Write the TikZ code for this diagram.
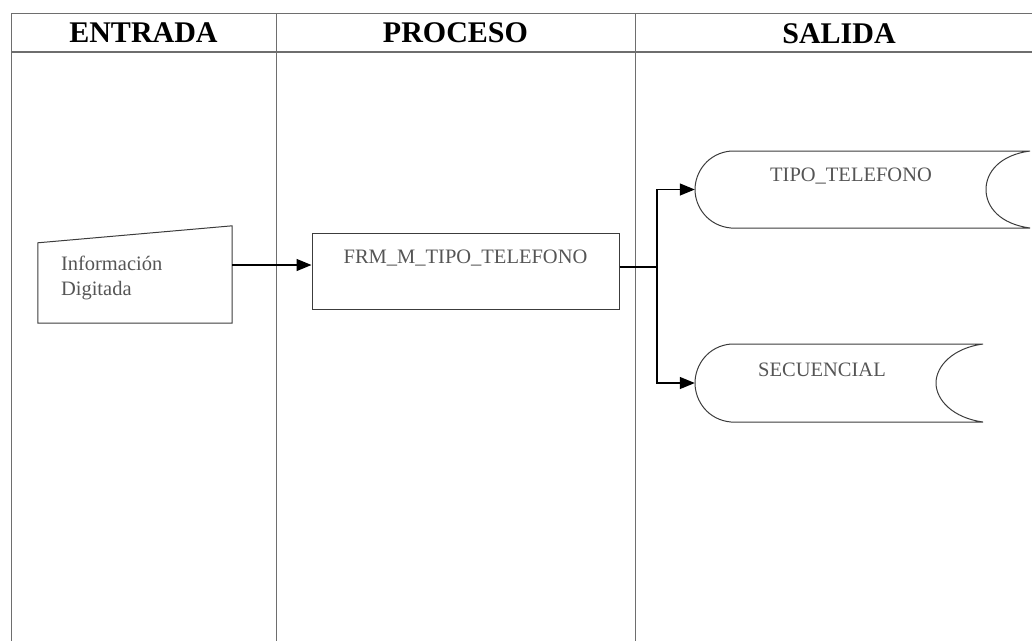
\documentclass[tikz,border=0pt]{standalone}
\usepackage{fontspec}
\setmainfont{Liberation Serif}
\usepackage{tikz}
\usetikzlibrary{arrows.meta, positioning, calc}
\definecolor{gridgray}{RGB}{110,110,110}
\definecolor{shapegray}{RGB}{60,60,60}
\definecolor{txtgray}{RGB}{85,85,85}
\tikzset{
  hdr/.style={font=\fontsize{30}{34}\selectfont\bfseries, text=black, inner sep=0pt},
  lbl/.style={font=\fontsize{20.5}{25}\selectfont, text=txtgray, inner sep=0pt},
  grid/.style={draw=gridgray, line width=0.9pt},
  outline/.style={draw=shapegray, line width=1pt},
  arr/.style={-{Triangle[length=15pt,width=12pt]}, line width=1.3pt, color=black},
  line/.style={line width=1.3pt, color=black}
}

\begin{document}
\begin{tikzpicture}[x=1pt, y=-1pt,
  procbox/.style={rectangle, outline, minimum width=307pt, minimum height=76pt, inner sep=0pt},
  boxarea/.style={rectangle, draw=none, inner sep=0pt}
]
\useasboundingbox (0,0) rectangle (1032,641);

% table
\draw[grid] (11,13.5) -- (1032,13.5);
\draw[grid, line width=1.1pt] (11,52) -- (1032,52);
\draw[grid] (11,13.5) -- (11,641);
\draw[grid] (276,13.5) -- (276,641);
\draw[grid] (635,13.5) -- (635,641);

\node[hdr] (entrada) at (143.5,33) {ENTRADA};
\node[hdr] (proceso) at (455.5,33) {PROCESO};
\node[hdr] (salida) at (839,34) {SALIDA};

% entrada: informacion digitada
\node[boxarea, minimum width=194pt, minimum height=97pt] (info) at (135,274.5) {};
\draw[outline] (info.south west) -- (info.south east) -- (info.north east)
  -- ($(info.north west)+(0,-17pt)$) -- cycle;
\node[lbl, anchor=north west, align=left] at ($(info.north west)+(23pt,-30pt)$) {Información\\Digitada};

% proceso
\node[procbox] (proc) at (465.5,271) {};
\node[lbl, anchor=north] at ($(proc.north)+(0,-17pt)$) {FRM\_M\_TIPO\_TELEFONO};

% salida: tablas
\node[boxarea, minimum width=335pt, minimum height=77pt] (tipo) at (862.5,189.5) {};
\draw[outline] (731,151) -- (1030,151)
  .. controls (1000,155) and (986,172) .. (986,189.5)
  .. controls (986,207) and (1000,224) .. (1030,228)
  -- (731,228)
  .. controls (708,226) and (695,207) .. (695,189.5)
  .. controls (695,172) and (708,153) .. (731,151);
\node[lbl, anchor=north] at (851,168) {TIPO\_TELEFONO};

\node[boxarea, minimum width=288pt, minimum height=78pt] (secu) at (839,383) {};
\draw[outline] (731,344) -- (983,344)
  .. controls (953,348) and (936,366) .. (936,383)
  .. controls (936,400) and (953,418) .. (983,422)
  -- (731,422)
  .. controls (708,420) and (695,401) .. (695,383)
  .. controls (695,365) and (708,346) .. (731,344);
\node[lbl, anchor=north] at (822,363) {SECUENCIAL};

% conectores
\coordinate (fork) at (657,267);
\draw[arr] ([yshift=9.5pt]info.east) -- ([yshift=9.5pt]info.east -| proc.west);
\draw[line] ([yshift=4pt]proc.east) -- (fork);
\draw[arr] (fork) |- (tipo.west);
\draw[arr] (fork) |- (secu.west);
\end{tikzpicture}
\end{document}
